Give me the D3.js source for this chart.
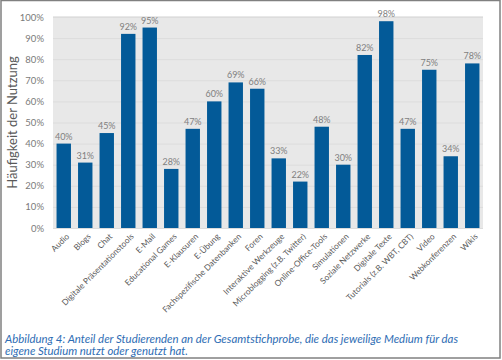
<!DOCTYPE html>
<html><head><meta charset="utf-8">
<script src="https://cdn.jsdelivr.net/npm/d3@7"></script>
<style>html,body{margin:0;padding:0;background:#fff}svg{display:block}</style>
</head><body>
<svg id="c" width="502" height="360"></svg>
<script>
const categories = ["Audio","Blogs","Chat","Digitale Präsentationstools","E-Mail","Educational Games","E-Klausuren","E-Übung","Fachspezifische Datenbanken","Foren","Interaktive Werkzeuge","Microblogging (z.B. Twitter)","Online-Office-Tools","Simulationen","Soziale Netzwerke","Digitale Texte","Tutorials (z.B. WBT, CBT)","Video","Webkonferenzen","Wikis"];
const values = [40,31,45,92,95,28,47,60,69,66,33,22,48,30,82,98,47,75,34,78];
const yTicks = [0,10,20,30,40,50,60,70,80,90,100];
const yTitle = "Häufigkeit der Nutzung";
const captionLines = ["Abbildung 4: Anteil der Studierenden an der Gesamtstichprobe, die das jeweilige Medium für das","eigene Studium nutzt oder genutzt hat."];

const svg = d3.select("#c");
const m = {l:53, r:483, t:17, b:228};
const x = d3.scaleBand().domain(categories).range([m.l, m.r]).paddingInner(0.33).paddingOuter(0.165);
const y = d3.scaleLinear().domain([0,100]).range([m.b, m.t]);
const font = "Lato, 'Open Sans', sans-serif";

svg.append("rect").attr("x", m.l).attr("y", m.t-1).attr("width", m.r-m.l).attr("height", m.b-m.t+1).attr("fill", "#e8e8e8");

const yAxis = d3.axisLeft(y).tickValues(yTicks).tickFormat(d => d + "%").tickSize(-(m.r-m.l)).tickPadding(9);
const ga = svg.append("g").attr("transform", `translate(${m.l},0)`).call(yAxis);
ga.select(".domain").remove();
ga.selectAll(".tick line").attr("stroke", "#dcdcdc").attr("stroke-width", 1);
ga.selectAll(".tick text").attr("fill", "#7a7a7a").style("font-family", font).style("font-size", "9.5px");

svg.append("g").selectAll("rect").data(values).join("rect")
  .attr("x", (d,i) => x(categories[i]))
  .attr("width", x.bandwidth())
  .attr("y", d => y(d))
  .attr("height", d => y(0) - y(d))
  .attr("fill", "#035a98");

svg.append("g").selectAll("text").data(values).join("text")
  .attr("x", (d,i) => x(categories[i]) + x.bandwidth()/2)
  .attr("y", d => y(d) - 4)
  .attr("text-anchor", "middle")
  .attr("fill", "#7f7f7f")
  .style("font-family", font).style("font-size", "9px")
  .text(d => d + "%");

const xAxis = d3.axisBottom(x).tickSize(0).tickPadding(0);
const gx = svg.append("g").attr("transform", `translate(0,${m.b})`).call(xAxis);
gx.select(".domain").remove();
gx.selectAll(".tick text")
  .attr("text-anchor", "end")
  .attr("fill", "#595959")
  .style("font-family", font).style("font-size", "8.3px")
  .attr("transform", "translate(4,7) rotate(-45)")
  .attr("dy", "0.35em");

svg.append("text")
  .attr("transform", `translate(17,${(m.t+m.b)/2}) rotate(-90)`)
  .attr("text-anchor", "middle")
  .attr("fill", "#595959")
  .style("font-family", font).style("font-size", "13px")
  .text(yTitle);

const caps = [{y:343, len:453}, {y:355, len:183}];
svg.append("g").selectAll("text").data(captionLines).join("text")
  .attr("x", 5)
  .attr("y", (d,i) => caps[i].y)
  .attr("textLength", (d,i) => caps[i].len)
  .attr("lengthAdjust", "spacingAndGlyphs")
  .attr("fill", "#2e6db4")
  .style("font-family", font).style("font-style", "italic").style("font-size", "11px")
  .text(d => d);

svg.append("rect").attr("x", 1).attr("y", 0.5).attr("width", 499).attr("height", 357.5)
  .attr("fill", "none").attr("stroke", "#808080").attr("stroke-width", 1.5);
</script>
</body></html>
